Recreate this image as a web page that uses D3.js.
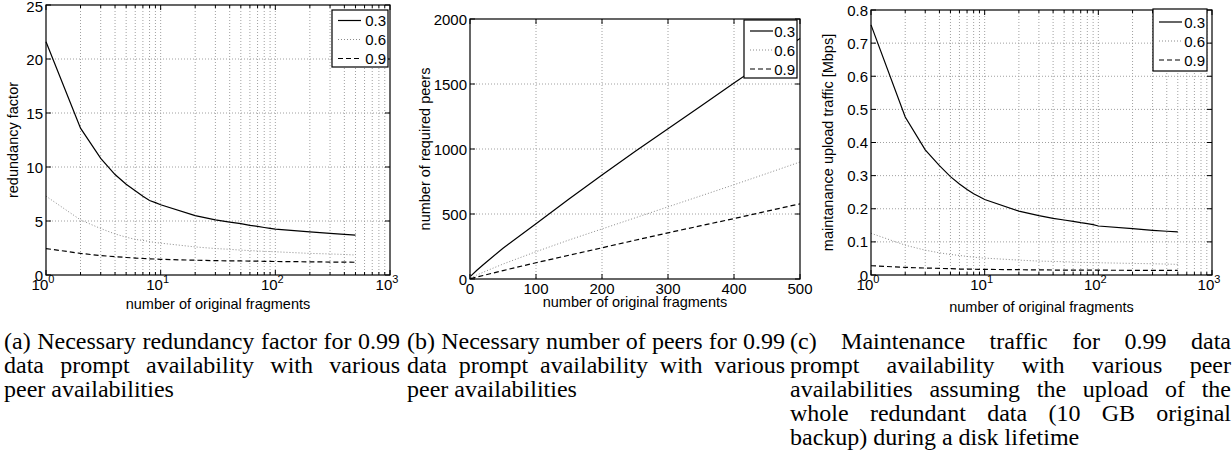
<!DOCTYPE html>
<html>
<head>
<meta charset="utf-8">
<script src="https://cdn.jsdelivr.net/npm/d3@7"></script>
<style>
  body { margin: 0; background: #fff; }
  svg { display: block; }
  .grid line { stroke: #a0a0a0; stroke-width: 1; stroke-dasharray: 1,2; }
  .frame { fill: none; stroke: #000; stroke-width: 1.2; }
  .tick-mark { stroke: #000; stroke-width: 1; }
  .legend-box { fill: #fff; stroke: #000; stroke-width: 1.2; }
</style>
</head>
<body>
<svg id="chart" width="1232" height="452"></svg>
<script>
// fragments used on the log panels (a) and (c)
const fragsLog = [1, 2, 3, 4, 5, 6, 7, 8, 9, 10, 20, 30, 40, 50, 60, 70, 80, 90, 100, 200, 300, 400, 500];
// (a) redundancy factor
const redundancy03 = [21.6, 13.6, 10.8, 9.3, 8.4, 7.8, 7.3, 6.9, 6.7, 6.5, 5.5, 5.1, 4.9, 4.75, 4.6, 4.5, 4.4, 4.32, 4.25, 4.0, 3.85, 3.77, 3.7];
const redundancy06 = [7.3, 5.1, 4.3, 3.8, 3.5, 3.3, 3.2, 3.1, 3.0, 2.95, 2.6, 2.45, 2.38, 2.3, 2.26, 2.22, 2.19, 2.17, 2.15, 2.0, 1.95, 1.9, 1.85];
const redundancy09 = [2.45, 2.0, 1.8, 1.7, 1.62, 1.57, 1.53, 1.5, 1.48, 1.45, 1.37, 1.33, 1.31, 1.3, 1.29, 1.28, 1.27, 1.26, 1.25, 1.22, 1.2, 1.19, 1.18];
// (c) maintenance upload traffic [Mbps]
const traffic03 = [0.755, 0.477, 0.378, 0.33, 0.297, 0.275, 0.258, 0.245, 0.236, 0.228, 0.193, 0.179, 0.171, 0.166, 0.162, 0.158, 0.155, 0.152, 0.148, 0.14, 0.135, 0.132, 0.13];
const traffic06 = [0.126, 0.09, 0.075, 0.067, 0.062, 0.059, 0.056, 0.054, 0.052, 0.051, 0.045, 0.042, 0.041, 0.04, 0.039, 0.038, 0.038, 0.037, 0.037, 0.035, 0.034, 0.033, 0.032];
const traffic09 = [0.028, 0.023, 0.021, 0.02, 0.019, 0.018, 0.018, 0.0175, 0.017, 0.017, 0.016, 0.0155, 0.015, 0.015, 0.015, 0.0148, 0.0147, 0.0146, 0.0145, 0.0142, 0.014, 0.0138, 0.0137];
// (b) number of required peers
const fragsLin = [1, 10, 20, 50, 100, 150, 200, 250, 300, 350, 400, 450, 500];
const peers03 = [22, 65, 110, 237, 425, 615, 800, 980, 1155, 1330, 1508, 1680, 1850];
const peers06 = [7, 30, 52, 115, 210, 300, 385, 470, 555, 640, 725, 812, 900];
const peers09 = [2.4, 14.5, 27, 65, 125, 183, 240, 298, 355, 410, 465, 522, 578];

const legendLabels = ['0.3', '0.6', '0.9'];
const yTicksA = [0, 5, 10, 15, 20, 25];
const yTicksB = [0, 500, 1000, 1500, 2000];
const yTicksC = [0, 0.1, 0.2, 0.3, 0.4, 0.5, 0.6, 0.7, 0.8];
const xTicksB = [0, 100, 200, 300, 400, 500];
const logDecades = [1, 10, 100, 1000];

const SANS = '"Liberation Sans", Arial, Helvetica, sans-serif';
const SERIF = '"Liberation Serif", "DejaVu Serif", serif';

const styles = [
  { stroke: '#000', dash: null, width: 1.2 },
  { stroke: '#8a8a8a', dash: '1,2', width: 1 },
  { stroke: '#000', dash: '5,3', width: 1.2 }
];

// justified caption lines; the last line of each keeps its natural width
const captions = [
  { x: 4, w: 396, lines: ['(a) Necessary redundancy factor for 0.99', 'data prompt availability with various', 'peer availabilities'] },
  { x: 407, w: 378, lines: ['(b) Necessary number of peers for 0.99', 'data prompt availability with various', 'peer availabilities'] },
  { x: 790, w: 441, lines: ['(c) Maintenance traffic for 0.99 data', 'prompt availability with various peer', 'availabilities assuming the upload of the', 'whole redundant data (10 GB original', 'backup) during a disk lifetime'] }
];

const svg = d3.select('#chart');

function sansText(sel, size) {
  return sel.style('font-family', SANS).style('font-size', size + 'px').attr('fill', '#000');
}

function drawPanel(p) {
  const g = svg.append('g');
  const x = (p.log ? d3.scaleLog() : d3.scaleLinear()).domain(p.xDomain).range([p.left, p.right]);
  const y = d3.scaleLinear().domain(p.yDomain).range([p.bottom, p.top]);

  let xMajor, xMinor = [];
  if (p.log) {
    xMajor = logDecades;
    xMinor = x.ticks().filter(t => !logDecades.includes(t));
  } else {
    xMajor = p.xTicks;
  }
  const gridX = xMajor.concat(xMinor).filter(t => t > p.xDomain[0] && t < p.xDomain[1]);
  const gridY = p.yTicks.filter(t => t > p.yDomain[0] && t < p.yDomain[1]);

  const grid = g.append('g').attr('class', 'grid');
  grid.selectAll('.gx').data(gridX).enter().append('line')
    .attr('x1', d => x(d)).attr('x2', d => x(d))
    .attr('y1', p.top).attr('y2', p.bottom);
  grid.selectAll('.gy').data(gridY).enter().append('line')
    .attr('x1', p.left).attr('x2', p.right)
    .attr('y1', d => y(d)).attr('y2', d => y(d));

  // inward tick marks on all four sides
  const ticks = g.append('g');
  const tickSet = xMajor.map(t => [t, 5]).concat(xMinor.map(t => [t, 3]));
  tickSet.forEach(([t, len]) => {
    ticks.append('line').attr('class', 'tick-mark')
      .attr('x1', x(t)).attr('x2', x(t)).attr('y1', p.bottom).attr('y2', p.bottom - len);
    ticks.append('line').attr('class', 'tick-mark')
      .attr('x1', x(t)).attr('x2', x(t)).attr('y1', p.top).attr('y2', p.top + len);
  });
  p.yTicks.forEach(t => {
    ticks.append('line').attr('class', 'tick-mark')
      .attr('x1', p.left).attr('x2', p.left + 5).attr('y1', y(t)).attr('y2', y(t));
    ticks.append('line').attr('class', 'tick-mark')
      .attr('x1', p.right).attr('x2', p.right - 5).attr('y1', y(t)).attr('y2', y(t));
  });

  // series
  const line = d3.line().x(d => x(d[0])).y(d => y(d[1]));
  p.series.forEach((vals, i) => {
    const pts = p.xs.map((v, j) => [v, vals[j]]);
    g.append('path')
      .attr('d', line(pts))
      .attr('fill', 'none')
      .attr('stroke', styles[i].stroke)
      .attr('stroke-width', styles[i].width)
      .attr('stroke-dasharray', styles[i].dash);
  });

  g.append('rect').attr('class', 'frame')
    .attr('x', p.left).attr('y', p.top)
    .attr('width', p.right - p.left).attr('height', p.bottom - p.top);

  // y tick labels
  g.selectAll('.ytl').data(p.yTicks).enter().append('text')
    .call(sansText, 15)
    .attr('x', p.left - 3)
    .attr('y', d => Math.max(11.5, y(d) + 5.5))
    .attr('text-anchor', 'end')
    .text(d => p.yFormat(d));

  // x tick labels
  if (p.log) {
    xMajor.forEach(t => {
      const txt = g.append('text').call(sansText, 15)
        .attr('x', x(t) - 3).attr('y', p.bottom + 15).attr('text-anchor', 'middle');
      txt.append('tspan').text('10');
      txt.append('tspan').attr('dy', -7).style('font-size', '11px').text(Math.round(Math.log10(t)));
    });
  } else {
    g.selectAll('.xtl').data(xMajor).enter().append('text')
      .call(sansText, 15)
      .attr('x', d => x(d)).attr('y', p.bottom + 15)
      .attr('text-anchor', 'middle')
      .text(d => d);
  }

  // axis labels
  g.append('text').call(sansText, 14.5)
    .attr('x', (p.left + p.right) / 2).attr('y', p.xlabelY)
    .attr('text-anchor', 'middle')
    .text('number of original fragments');
  g.append('text').call(sansText, 14.5)
    .attr('transform', `translate(${p.ylabelX},${(p.top + p.bottom) / 2}) rotate(-90)`)
    .attr('text-anchor', 'middle')
    .text(p.ylabel);

  // legend
  const L = p.legend;
  const lg = g.append('g');
  lg.append('rect').attr('class', 'legend-box')
    .attr('x', L.x).attr('y', L.y).attr('width', L.w).attr('height', L.h);
  legendLabels.forEach((lab, i) => {
    const cy = L.y + L.h / 2 + (i - 1) * 19 + 1;
    lg.append('line')
      .attr('x1', L.x + 6).attr('x2', L.x + 29)
      .attr('y1', cy).attr('y2', cy)
      .attr('stroke', styles[i].stroke)
      .attr('stroke-width', styles[i].width)
      .attr('stroke-dasharray', styles[i].dash);
    lg.append('text').call(sansText, 15)
      .attr('x', L.x + L.w - 2).attr('y', cy + 5.5)
      .attr('text-anchor', 'end')
      .text(lab);
  });
}

drawPanel({
  left: 46, right: 390, top: 5, bottom: 275, log: true,
  xDomain: [1, 1000], yDomain: [0, 25], yTicks: yTicksA, yFormat: d => d,
  xs: fragsLog, series: [redundancy03, redundancy06, redundancy09],
  ylabel: 'redundancy factor', ylabelX: 18, xlabelY: 309,
  legend: { x: 332, y: 10, w: 56, h: 57 }
});

drawPanel({
  left: 470, right: 800, top: 19, bottom: 279, log: false,
  xDomain: [0, 500], xTicks: xTicksB, yDomain: [0, 2000], yTicks: yTicksB, yFormat: d => d,
  xs: fragsLin, series: [peers03, peers06, peers09],
  ylabel: 'number of required peers', ylabelX: 430, xlabelY: 307,
  legend: { x: 744, y: 20, w: 53, h: 58 }
});

drawPanel({
  left: 871, right: 1212, top: 10, bottom: 275, log: true,
  xDomain: [1, 1000], yDomain: [0, 0.8], yTicks: yTicksC, yFormat: d => d === 0 ? '0' : d3.format('.1f')(d),
  xs: fragsLog, series: [traffic03, traffic06, traffic09],
  ylabel: 'maintanance upload traffic [Mbps]', ylabelX: 833, xlabelY: 312,
  legend: { x: 1153, y: 9, w: 54, h: 62 }
});

// captions, justified by widening the word gaps
captions.forEach(c => {
  c.lines.forEach((ln, i) => {
    const t = svg.append('text')
      .style('font-family', SERIF).style('font-size', '24px').attr('fill', '#000')
      .attr('x', c.x).attr('y', 349 + i * 24)
      .text(ln);
    const natural = t.node().getComputedTextLength();
    if (i < c.lines.length - 1) {
      const gaps = ln.split(' ').length - 1;
      t.attr('word-spacing', Math.max(0, (c.w - natural) / gaps));
    }
  });
});
</script>
</body>
</html>
